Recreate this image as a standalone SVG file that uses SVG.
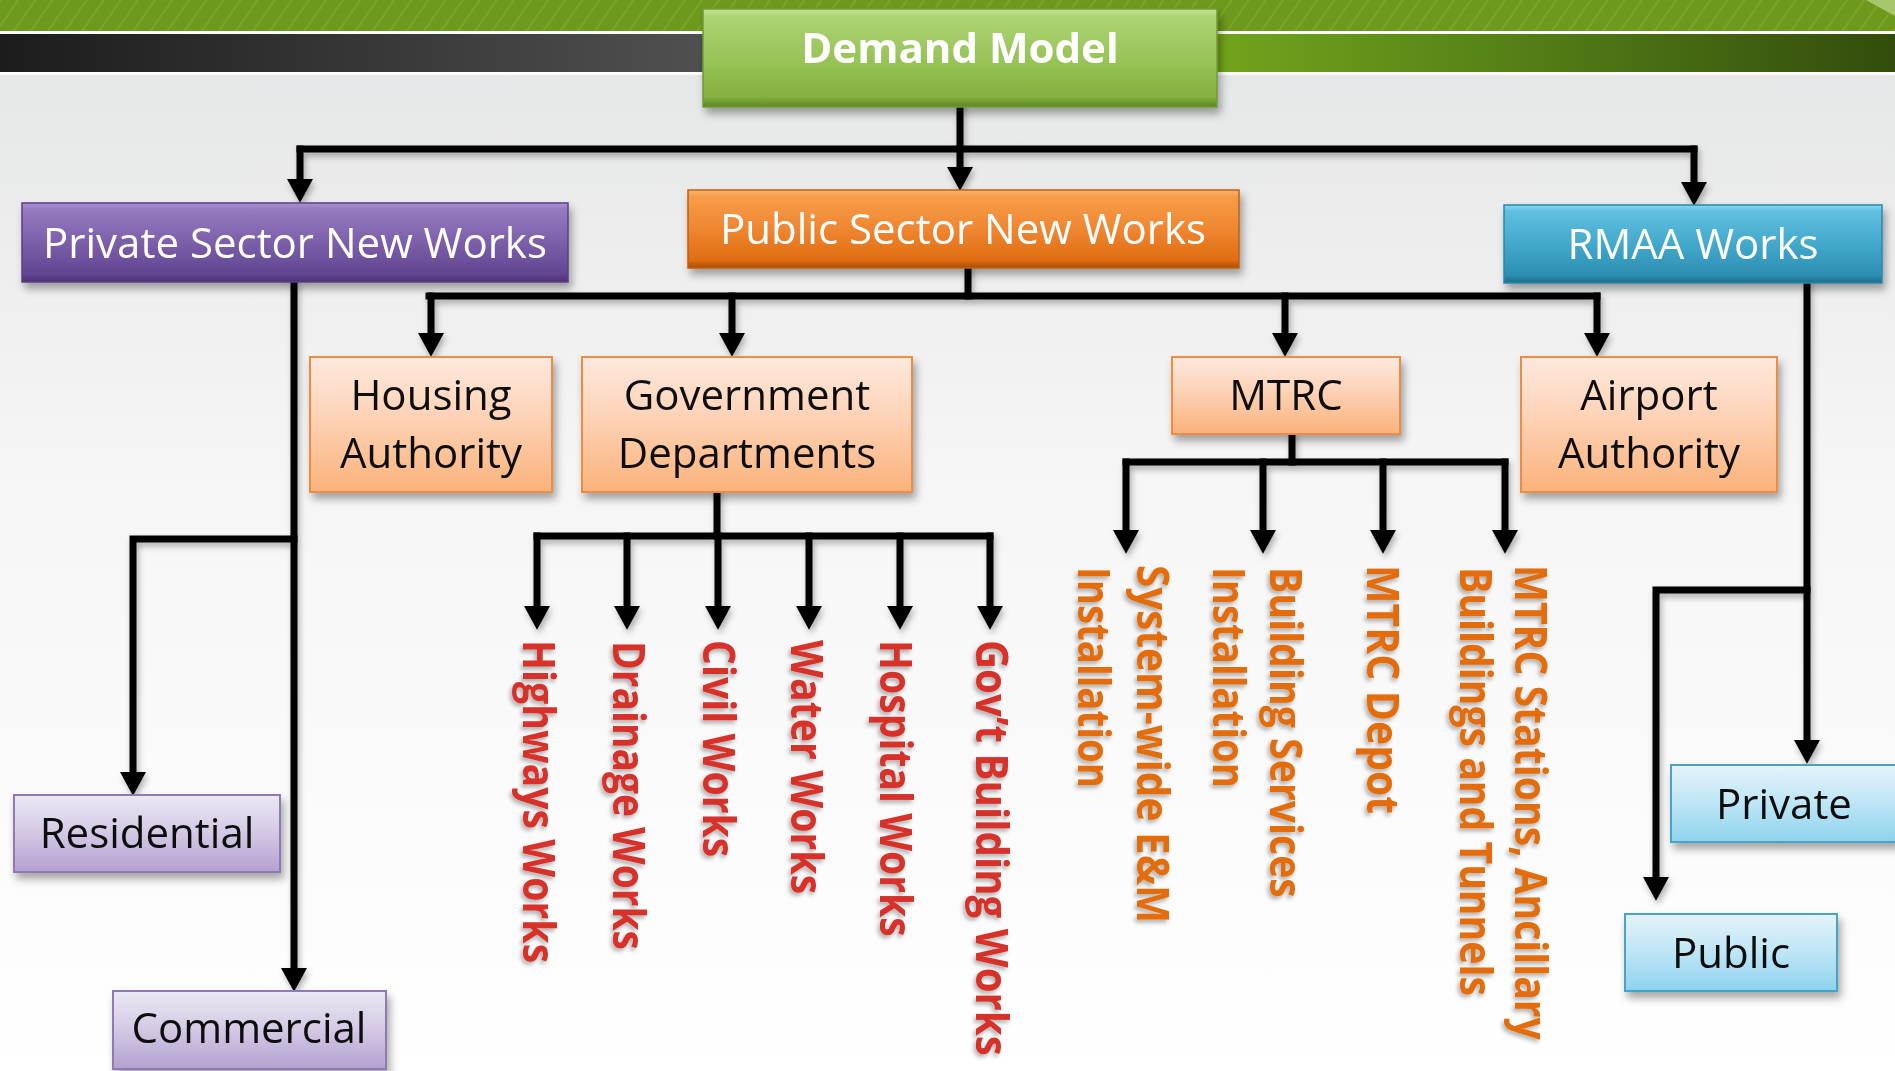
<svg xmlns="http://www.w3.org/2000/svg" width="1895" height="1071" viewBox="0 0 1895 1071">
<defs>
<style>
.t{font-family:"Open Sans","Liberation Sans",sans-serif;text-anchor:middle}
.hw{fill:#ffffff;font-size:42px}
.bk{fill:#111111;font-size:42px}
.rl{font-family:"Open Sans","Liberation Sans",sans-serif;font-weight:bold;font-size:44px;fill:#d6302c}
.ol{font-family:"Open Sans","Liberation Sans",sans-serif;font-weight:bold;font-size:44px;fill:#e36c0a}
.conn{fill:none;stroke:#000;stroke-width:7;stroke-linecap:square;stroke-linejoin:miter}
.arr{marker-end:url(#ah)}
.lo{fill:url(#gLO);stroke:#ee8c45;stroke-width:2}
.lp{fill:url(#gLP);stroke:#8f7ab5;stroke-width:2}
.lb{fill:url(#gLB);stroke:#4aa3c2;stroke-width:2}
</style>
<linearGradient id="bg" x1="0" y1="0" x2="0" y2="1">
<stop offset="0" stop-color="#e3e4e5"/><stop offset="0.45" stop-color="#f6f6f6"/><stop offset="1" stop-color="#ffffff"/>
</linearGradient>
<linearGradient id="darkL" x1="0" y1="0" x2="1" y2="0">
<stop offset="0" stop-color="#1c1c1c"/><stop offset="1" stop-color="#505050"/>
</linearGradient>
<linearGradient id="darkR" x1="0" y1="0" x2="1" y2="0">
<stop offset="0" stop-color="#72a41c"/><stop offset="0.35" stop-color="#5a8818"/><stop offset="1" stop-color="#334c0c"/>
</linearGradient>
<pattern id="stripes" width="14" height="14" patternUnits="userSpaceOnUse" patternTransform="rotate(35)">
<rect width="14" height="14" fill="#6e9a1c"/><rect width="2" height="14" fill="#86ae3a" opacity="0.5"/>
</pattern>
<linearGradient id="gGreen" x1="0" y1="0" x2="0" y2="1">
<stop offset="0" stop-color="#c4e392"/><stop offset="0.08" stop-color="#acd473"/><stop offset="0.5" stop-color="#98c459"/><stop offset="0.9" stop-color="#84b13f"/><stop offset="1" stop-color="#5a8424"/>
</linearGradient>
<linearGradient id="gPurple" x1="0" y1="0" x2="0" y2="1">
<stop offset="0" stop-color="#ab94d2"/><stop offset="0.08" stop-color="#957ac0"/><stop offset="0.5" stop-color="#7c5fa9"/><stop offset="0.9" stop-color="#624591"/><stop offset="1" stop-color="#48306f"/>
</linearGradient>
<linearGradient id="gOrange" x1="0" y1="0" x2="0" y2="1">
<stop offset="0" stop-color="#fbb570"/><stop offset="0.08" stop-color="#f79e4a"/><stop offset="0.5" stop-color="#ef8631"/><stop offset="0.9" stop-color="#e06d12"/><stop offset="1" stop-color="#a84c06"/>
</linearGradient>
<linearGradient id="gBlue" x1="0" y1="0" x2="0" y2="1">
<stop offset="0" stop-color="#86d8f2"/><stop offset="0.08" stop-color="#60c0e0"/><stop offset="0.5" stop-color="#43a8cc"/><stop offset="0.9" stop-color="#2c8fb2"/><stop offset="1" stop-color="#1d6b88"/>
</linearGradient>
<linearGradient id="gLO" x1="0" y1="0" x2="0" y2="1">
<stop offset="0" stop-color="#fee9de"/><stop offset="0.45" stop-color="#fdd2b6"/><stop offset="1" stop-color="#fbb27a"/>
</linearGradient>
<linearGradient id="gLP" x1="0" y1="0" x2="0" y2="1">
<stop offset="0" stop-color="#ece8f3"/><stop offset="0.45" stop-color="#d6cce6"/><stop offset="1" stop-color="#b3a0d0"/>
</linearGradient>
<linearGradient id="gLB" x1="0" y1="0" x2="0" y2="1">
<stop offset="0" stop-color="#e4f3fa"/><stop offset="0.45" stop-color="#c2e7f6"/><stop offset="1" stop-color="#8dd3ee"/>
</linearGradient>
<filter id="sh" x="-10%" y="-20%" width="125%" height="160%">
<feDropShadow dx="3" dy="6" stdDeviation="4" flood-color="#000" flood-opacity="0.35"/>
</filter>
<filter id="lsh" x="-5%" y="-5%" width="110%" height="110%">
<feDropShadow dx="2" dy="4" stdDeviation="3" flood-color="#000" flood-opacity="0.3"/>
</filter>
<filter id="tsh" x="-20%" y="-5%" width="140%" height="110%">
<feDropShadow dx="-2" dy="3" stdDeviation="2" flood-color="#000" flood-opacity="0.3"/>
</filter>
<marker id="ah" markerUnits="userSpaceOnUse" markerWidth="24" markerHeight="26" viewBox="0 -12 22 24" refX="0" refY="0" orient="auto">
<path d="M0,-12 L22,0 L0,12 Z" fill="#000"/>
</marker>
</defs>

<!-- background and header -->
<rect x="0" y="0" width="1895" height="1071" fill="url(#bg)"/>
<rect x="0" y="0" width="1895" height="31" fill="url(#stripes)"/>
<polygon points="1866,0 1895,0 1895,16" fill="#a8c76c"/>
<rect x="0" y="31" width="1895" height="3" fill="#ffffff"/>
<rect x="0" y="34" width="703" height="38" fill="url(#darkL)"/>
<rect x="1217" y="34" width="678" height="38" fill="url(#darkR)"/>
<rect x="0" y="72" width="1895" height="3" fill="#ffffff"/>

<g id="connectors" filter="url(#lsh)">
<path class="conn" d="M960,107 V149"/>
<path class="conn" d="M300,149 H1694"/>
<path class="conn arr" d="M300,149 V179"/>
<path class="conn arr" d="M960,149 V167"/>
<path class="conn arr" d="M1694,149 V182"/>
<path class="conn arr" d="M294,282 V968"/>
<path class="conn arr" d="M294,539 H133 V772"/>
<path class="conn" d="M968,268 V296"/>
<path class="conn" d="M429,296 H1597"/>
<path class="conn arr" d="M431,296 V333"/>
<path class="conn arr" d="M732,296 V333"/>
<path class="conn arr" d="M1285,296 V333"/>
<path class="conn arr" d="M1597,296 V333"/>
<path class="conn" d="M717,492 V536"/>
<path class="conn" d="M537,536 H990"/>
<path class="conn arr" d="M537,536 V606"/>
<path class="conn arr" d="M627,536 V606"/>
<path class="conn arr" d="M718,536 V606"/>
<path class="conn arr" d="M809,536 V606"/>
<path class="conn arr" d="M900,536 V606"/>
<path class="conn arr" d="M990,536 V606"/>
<path class="conn" d="M1292,434 V462"/>
<path class="conn" d="M1126,462 H1505"/>
<path class="conn arr" d="M1126,462 V530"/>
<path class="conn arr" d="M1263,462 V530"/>
<path class="conn arr" d="M1383,462 V530"/>
<path class="conn arr" d="M1505,462 V530"/>
<path class="conn arr" d="M1807,283 V740"/>
<path class="conn arr" d="M1807,590 H1656 V877"/>
</g>

<g id="node-demand-model" filter="url(#sh)">
<rect x="703" y="9" width="514" height="98" fill="url(#gGreen)" stroke="#6f9b34" stroke-width="1.5"/>
<text class="t hw" x="960" y="63" font-weight="bold">Demand Model</text>
</g>
<g id="node-private-sector" filter="url(#sh)">
<rect x="22" y="203" width="546" height="79" fill="url(#gPurple)" stroke="#5a3f8a" stroke-width="1.5"/>
<text class="t hw" x="295" y="258">Private Sector New Works</text>
</g>
<g id="node-public-sector" filter="url(#sh)">
<rect x="688" y="190" width="551" height="78" fill="url(#gOrange)" stroke="#c0600e" stroke-width="1.5"/>
<text class="t hw" x="963" y="244">Public Sector New Works</text>
</g>
<g id="node-rmaa" filter="url(#sh)">
<rect x="1504" y="205" width="378" height="78" fill="url(#gBlue)" stroke="#2a88aa" stroke-width="1.5"/>
<text class="t hw" x="1693" y="259">RMAA Works</text>
</g>

<g id="node-housing-authority" filter="url(#sh)">
<rect class="lo" x="310" y="357" width="242" height="135"/>
<text class="t bk" x="431" y="410">Housing</text>
<text class="t bk" x="431" y="468">Authority</text>
</g>
<g id="node-government-departments" filter="url(#sh)">
<rect class="lo" x="582" y="357" width="330" height="135"/>
<text class="t bk" x="747" y="410">Government</text>
<text class="t bk" x="747" y="468">Departments</text>
</g>
<g id="node-mtrc" filter="url(#sh)">
<rect class="lo" x="1172" y="357" width="228" height="77"/>
<text class="t bk" x="1286" y="410">MTRC</text>
</g>
<g id="node-airport-authority" filter="url(#sh)">
<rect class="lo" x="1521" y="357" width="256" height="135"/>
<text class="t bk" x="1649" y="410">Airport</text>
<text class="t bk" x="1649" y="468">Authority</text>
</g>

<g id="node-residential" filter="url(#sh)">
<rect class="lp" x="14" y="795" width="266" height="77"/>
<text class="t bk" x="147" y="848">Residential</text>
</g>
<g id="node-commercial" filter="url(#sh)">
<rect class="lp" x="113" y="991" width="273" height="78"/>
<text class="t bk" x="249" y="1043">Commercial</text>
</g>
<g id="node-private" filter="url(#sh)">
<rect class="lb" x="1671" y="765" width="226" height="77"/>
<text class="t bk" x="1784" y="819">Private</text>
</g>
<g id="node-public" filter="url(#sh)">
<rect class="lb" x="1625" y="914" width="212" height="77"/>
<text class="t bk" x="1731" y="968">Public</text>
</g>

<g id="labels-gov" filter="url(#tsh)">
<g id="node-highways-works"><text class="rl" transform="translate(523,640) rotate(90) scale(0.892,1)">Highways Works</text></g>
<g id="node-drainage-works"><text class="rl" transform="translate(613,641) rotate(90) scale(0.885,1)">Drainage Works</text></g>
<g id="node-civil-works"><text class="rl" transform="translate(703,640) rotate(90) scale(0.892,1)">Civil Works</text></g>
<g id="node-water-works"><text class="rl" transform="translate(791,640) rotate(90) scale(0.894,1)">Water Works</text></g>
<g id="node-hospital-works"><text class="rl" transform="translate(880,640) rotate(90) scale(0.89,1)">Hospital Works</text></g>
<g id="node-govt-building-works"><text class="rl" transform="translate(976,640) rotate(90) scale(0.914,1)">Gov’t Building Works</text></g>
</g>

<g id="labels-mtrc" filter="url(#tsh)">
<g id="node-system-wide-em">
<text class="ol" transform="translate(1137,565) rotate(90) scale(0.921,1)">System-wide E&amp;M</text>
<text class="ol" transform="translate(1078,567) rotate(90) scale(0.873,1)">Installation</text>
</g>
<g id="node-building-services">
<text class="ol" transform="translate(1270,567) rotate(90) scale(0.892,1)">Building Services</text>
<text class="ol" transform="translate(1213,567) rotate(90) scale(0.873,1)">Installation</text>
</g>
<g id="node-mtrc-depot">
<text class="ol" transform="translate(1367,565) rotate(90) scale(0.929,1)">MTRC Depot</text>
</g>
<g id="node-mtrc-stations">
<text class="ol" transform="translate(1515,565) rotate(90) scale(0.89,1)">MTRC Stations, Ancillary</text>
<text class="ol" transform="translate(1460,567) rotate(90) scale(0.89,1)">Buildings and Tunnels</text>
</g>
</g>
</svg>
